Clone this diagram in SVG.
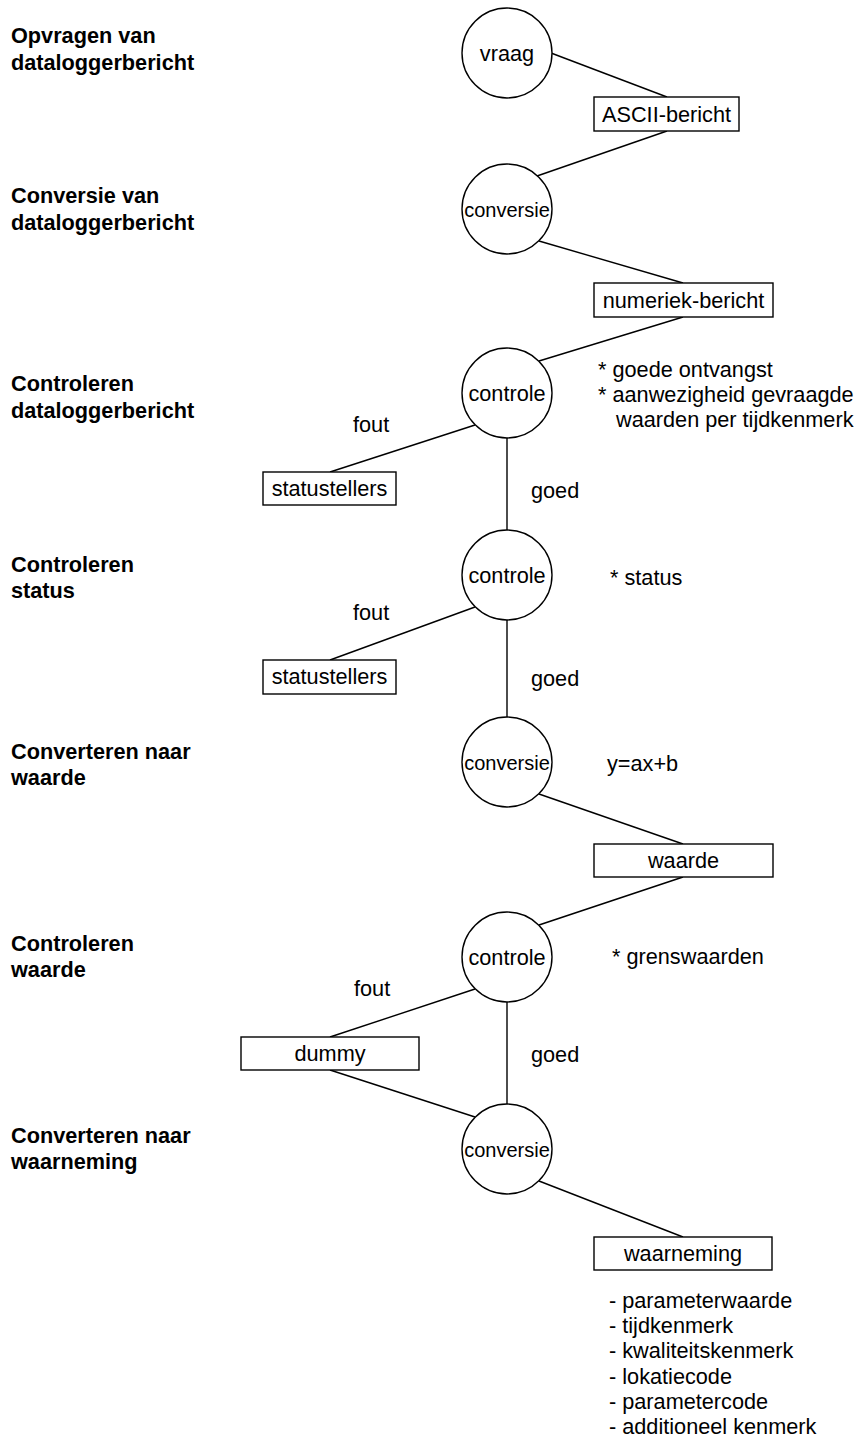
<svg xmlns="http://www.w3.org/2000/svg" width="862" height="1443" viewBox="0 0 862 1443">
  <style>
    .proc { fill: #fff; stroke: #000; stroke-width: 1.4; }
    .store { fill: #fff; stroke: #000; stroke-width: 1.4; }
    .link { stroke: #000; stroke-width: 1.4; fill: none; }
    text { font-family: "Liberation Sans", Arial, Helvetica, sans-serif; font-size: 21.7px; fill: #000; }
    .step { font-weight: bold; }
    .mid { text-anchor: middle; }
    .tight { font-size: 20px; }
  </style>
  <rect width="862" height="1443" fill="#fff"/>

  <!-- step titles -->
  <g id="titles">
    <text class="step" x="11" y="43">Opvragen van</text>
    <text class="step" x="11" y="70">dataloggerbericht</text>
    <text class="step" x="11" y="203">Conversie van</text>
    <text class="step" x="11" y="230">dataloggerbericht</text>
    <text class="step" x="11" y="391">Controleren</text>
    <text class="step" x="11" y="418">dataloggerbericht</text>
    <text class="step" x="11" y="572">Controleren</text>
    <text class="step" x="11" y="598">status</text>
    <text class="step" x="11" y="759">Converteren naar</text>
    <text class="step" x="11" y="785">waarde</text>
    <text class="step" x="11" y="951">Controleren</text>
    <text class="step" x="11" y="977">waarde</text>
    <text class="step" x="11" y="1143">Converteren naar</text>
    <text class="step" x="11" y="1169">waarneming</text>
  </g>

  <!-- connectors -->
  <g id="connectors">
    <line class="link" x1="551" y1="53" x2="667" y2="97"/>
    <line class="link" x1="667" y1="131" x2="537" y2="176"/>
    <line class="link" x1="539" y1="241" x2="683" y2="283"/>
    <line class="link" x1="683" y1="317" x2="539" y2="361"/>
    <line class="link" x1="475" y1="425" x2="330" y2="472"/>
    <line class="link" x1="507" y1="438" x2="507" y2="530"/>
    <line class="link" x1="475" y1="607" x2="330" y2="660"/>
    <line class="link" x1="507" y1="620" x2="507" y2="717"/>
    <line class="link" x1="539" y1="794" x2="683" y2="844"/>
    <line class="link" x1="683" y1="877" x2="539" y2="925"/>
    <line class="link" x1="475" y1="989" x2="330" y2="1037"/>
    <line class="link" x1="507" y1="1002" x2="507" y2="1104"/>
    <line class="link" x1="330" y1="1070" x2="475" y2="1117"/>
    <line class="link" x1="539" y1="1181" x2="683" y2="1237"/>
    <text x="353" y="432">fout</text>
    <text x="531" y="498">goed</text>
    <text x="353" y="620">fout</text>
    <text x="531" y="686">goed</text>
    <text x="354" y="996">fout</text>
    <text x="531" y="1062">goed</text>
  </g>

  <!-- processes -->
  <g id="vraag">
    <circle class="proc" cx="507" cy="53" r="45"/>
    <text class="mid" x="507" y="60.5">vraag</text>
  </g>
  <g id="conversie-bericht">
    <circle class="proc" cx="507" cy="209" r="45"/>
    <text class="mid tight" x="507" y="216.5">conversie</text>
  </g>
  <g id="controle-bericht">
    <circle class="proc" cx="507" cy="393" r="45"/>
    <text class="mid" x="507" y="400.5">controle</text>
  </g>
  <g id="controle-status">
    <circle class="proc" cx="507" cy="575" r="45"/>
    <text class="mid" x="507" y="582.5">controle</text>
  </g>
  <g id="conversie-waarde">
    <circle class="proc" cx="507" cy="762" r="45"/>
    <text class="mid tight" x="507" y="769.5">conversie</text>
  </g>
  <g id="controle-waarde">
    <circle class="proc" cx="507" cy="957" r="45"/>
    <text class="mid" x="507" y="964.5">controle</text>
  </g>
  <g id="conversie-waarneming">
    <circle class="proc" cx="507" cy="1149" r="45"/>
    <text class="mid tight" x="507" y="1156.5">conversie</text>
  </g>

  <!-- data items -->
  <g id="ascii-bericht">
    <rect class="store" x="594" y="97" width="145" height="34"/>
    <text class="mid" x="666.5" y="121.5">ASCII-bericht</text>
  </g>
  <g id="numeriek-bericht">
    <rect class="store" x="594" y="283" width="179" height="34"/>
    <text class="mid" x="683.5" y="307.5">numeriek-bericht</text>
  </g>
  <g id="statustellers-1">
    <rect class="store" x="263" y="472" width="133" height="33"/>
    <text class="mid" x="329.5" y="496">statustellers</text>
  </g>
  <g id="statustellers-2">
    <rect class="store" x="263" y="660" width="133" height="34"/>
    <text class="mid" x="329.5" y="684">statustellers</text>
  </g>
  <g id="waarde">
    <rect class="store" x="594" y="844" width="179" height="33"/>
    <text class="mid" x="683.5" y="868">waarde</text>
  </g>
  <g id="dummy">
    <rect class="store" x="241" y="1037" width="178" height="33"/>
    <text class="mid" x="330" y="1061">dummy</text>
  </g>
  <g id="waarneming">
    <rect class="store" x="594" y="1237" width="178" height="33"/>
    <text class="mid" x="683" y="1261">waarneming</text>
  </g>

  <!-- notes -->
  <g id="notes">
    <text x="598" y="377">* goede ontvangst</text>
    <text x="598" y="402">* aanwezigheid gevraagde</text>
    <text x="616" y="427">waarden per tijdkenmerk</text>
    <text x="610" y="585">* status</text>
    <text x="607" y="771">y=ax+b</text>
    <text x="612" y="964">* grenswaarden</text>
    <text x="609" y="1308">- parameterwaarde</text>
    <text x="609" y="1333">- tijdkenmerk</text>
    <text x="609" y="1358">- kwaliteitskenmerk</text>
    <text x="609" y="1384">- lokatiecode</text>
    <text x="609" y="1409">- parametercode</text>
    <text x="609" y="1434">- additioneel kenmerk</text>
  </g>
</svg>
